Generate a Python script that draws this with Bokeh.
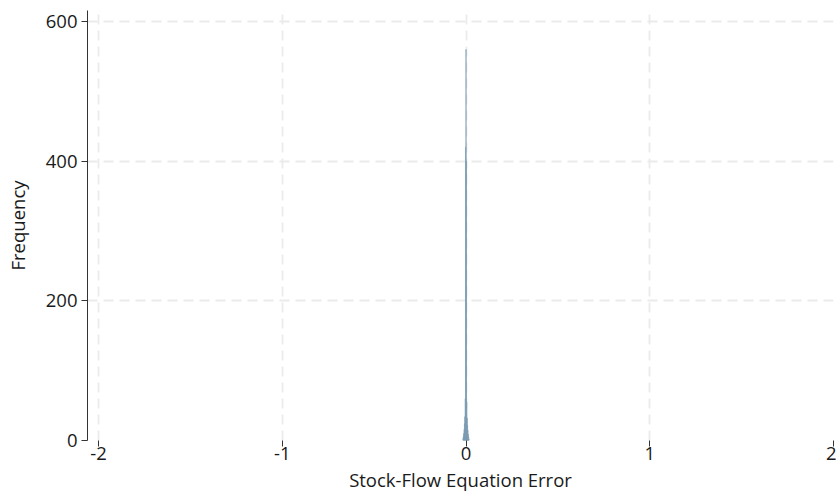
from bokeh.plotting import figure
from bokeh.models import Range1d, FixedTicker
from bokeh.embed import file_html
from bokeh.resources import INLINE

# Histogram of stock-flow equation error (bins near zero)
bin_centers = [-0.016, -0.014, -0.012, -0.010, -0.008, -0.006, -0.004, -0.002, 0.0,
               0.002, 0.004, 0.006, 0.008, 0.010, 0.012, 0.014, 0.016]
counts = [3, 6, 10, 16, 24, 34, 60, 420, 560, 400, 55, 32, 22, 15, 9, 5, 2]
bin_width = 0.002

x_ticks = [-2, -1, 0, 1, 2]
x_tick_labels = ["-2", "-1", "0", "1", "2"]
y_ticks = [0, 200, 400, 600]

FONT = "Open Sans"
TXT = "#1a1a1a"

p = figure(width=836, height=497, output_backend="svg", toolbar_location=None,
           x_range=Range1d(-2.06, 2.0), y_range=Range1d(0, 615.8),
           min_border_left=87, min_border_right=3, min_border_top=10, min_border_bottom=57)
p.outline_line_color = None
p.background_fill_color = "white"

left = [c - bin_width / 2 for c in bin_centers]
right = [c + bin_width / 2 for c in bin_centers]
p.quad(left=left, right=right, bottom=0, top=counts,
       fill_color="#7d9db2", line_color="#7d9db2", line_width=0.5)

for ax in (p.xaxis[0], p.yaxis[0]):
    ax.major_label_text_font = FONT
    ax.major_label_text_font_size = "18.5px"
    ax.major_label_text_color = TXT
    ax.axis_label_text_font = FONT
    ax.axis_label_text_font_size = "18.5px"
    ax.axis_label_text_font_style = "normal"
    ax.axis_label_text_color = TXT
    ax.minor_tick_line_color = None
    ax.major_tick_line_color = "#333333"
    ax.major_tick_out = 6
    ax.major_tick_in = 0

p.xaxis.ticker = FixedTicker(ticks=x_ticks)
p.xaxis.major_label_overrides = {t: s for t, s in zip(x_ticks, x_tick_labels)}
p.yaxis.ticker = FixedTicker(ticks=y_ticks)
p.xaxis.axis_label = "Stock-Flow Equation Error"
p.yaxis.axis_label = "Frequency"
p.xaxis.axis_line_color = None
p.yaxis.axis_line_color = "#333333"
p.yaxis.major_label_orientation = "horizontal"
p.xaxis.major_label_standoff = 0
p.xaxis.axis_label_standoff = 4
p.yaxis.major_label_standoff = 4
p.yaxis.axis_label_standoff = 13

for g in (p.xgrid[0], p.ygrid[0]):
    g.grid_line_color = "#ebebeb"
    g.grid_line_dash = "10 6"
    g.grid_line_width = 1.8

open("out.html", "w").write(file_html(p, INLINE))
